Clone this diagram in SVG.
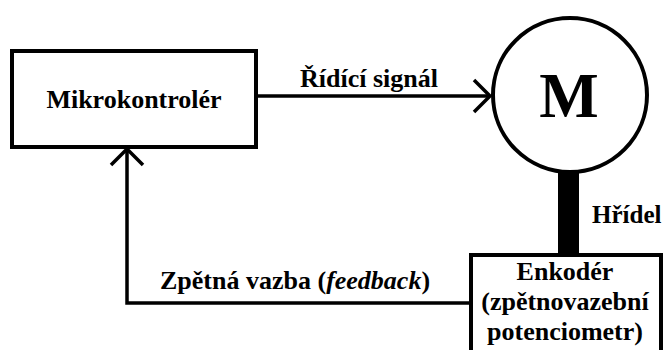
<svg xmlns="http://www.w3.org/2000/svg" width="663" height="350" viewBox="0 0 663 350">
  <style>
    .box { fill: #ffffff; stroke: #000000; stroke-width: 4; }
    .line { fill: none; stroke: #000000; stroke-width: 3.5; }
    .head { fill: none; stroke: #000000; stroke-width: 3.5; stroke-linecap: butt; }
    text { font-family: 'Liberation Serif', 'Times New Roman', serif; font-weight: bold; font-size: 26px; fill: #000000; }
    .mid { text-anchor: middle; }
  </style>
  <rect width="663" height="350" fill="#ffffff"/>

  <!-- connectors -->
  <g id="connectors">
    <!-- control signal: controller to motor -->
    <line class="line" x1="256" y1="96" x2="490" y2="96"/>
    <polyline class="head" points="474,80 490,96 474,112"/>
    <!-- feedback: encoder back to controller -->
    <polyline class="line" points="470,303 127,303 127,149"/>
    <polyline class="head" points="111,165 127,149 143,165"/>
    <!-- shaft between motor and encoder -->
    <rect id="shaft" x="558" y="172" width="21" height="83" fill="#000000"/>
  </g>

  <g id="controller">
    <rect class="box" x="12" y="51" width="244" height="96"/>
    <text class="mid" x="134" y="108">Mikrokontrolér</text>
  </g>

  <g id="motor">
    <circle cx="570" cy="95" r="77" fill="#ffffff" stroke="#000000" stroke-width="4"/>
    <text class="mid" x="569" y="117" style="font-size:63px">M</text>
  </g>

  <g id="encoder">
    <rect class="box" x="471" y="255" width="190" height="100"/>
    <text class="mid" x="565" y="280">Enkodér</text>
    <text class="mid" x="565" y="310">(zpětnovazební</text>
    <text class="mid" x="565" y="340">potenciometr)</text>
  </g>

  <g id="labels">
    <text class="mid" x="369" y="87">Řídící signál</text>
    <text x="592" y="223" style="font-size:25px">Hřídel</text>
    <text x="160" y="289">Zpětná vazba (<tspan font-style="italic">feedback</tspan>)</text>
  </g>
</svg>
